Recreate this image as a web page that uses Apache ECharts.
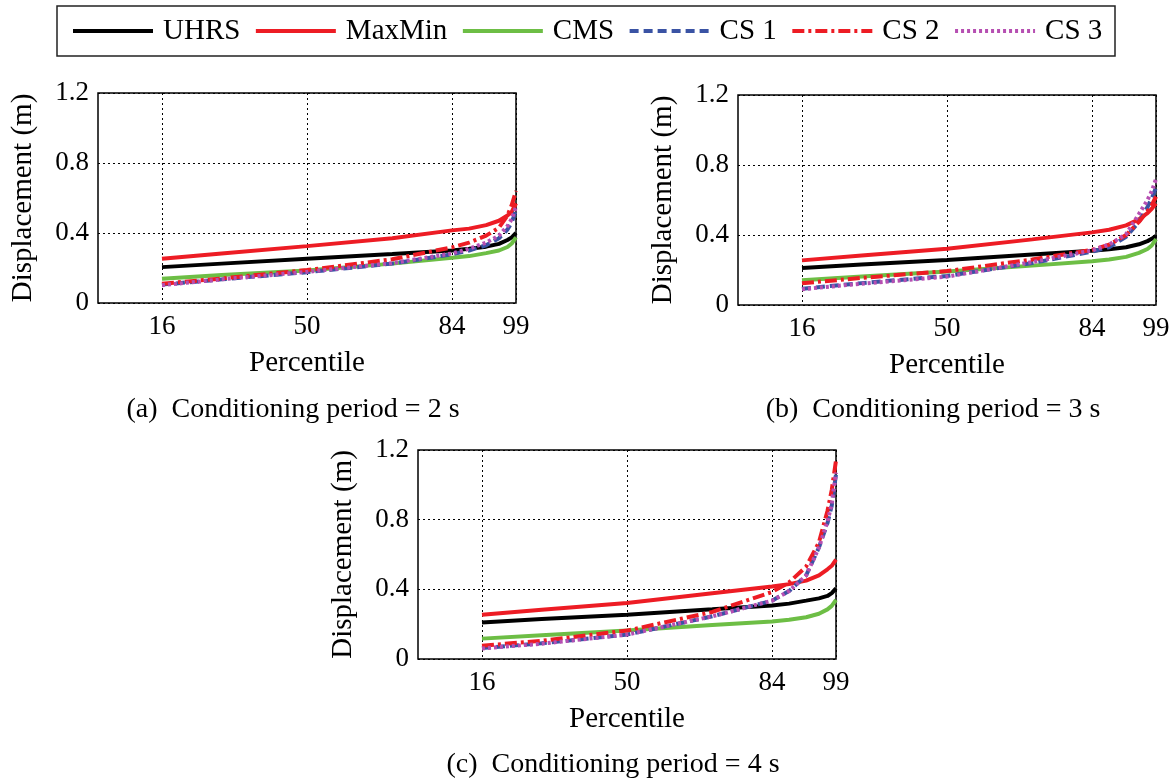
<!DOCTYPE html>
<html>
<head>
<meta charset="utf-8">
<title>Displacement percentiles</title>
<script src="https://cdn.jsdelivr.net/npm/echarts@6/dist/echarts.min.js"></script>
<style>
  html, body { margin: 0; padding: 0; background: #fff; }
  #chart { width: 1176px; height: 783px; }
</style>
</head>
<body>
<div id="chart"></div>
<script>
// percentile positions
const percentiles = [16, 30, 50, 70, 84, 88, 92, 95, 97, 98, 99];
const xTicks = [16, 50, 84, 99];
const seriesNames = ['UHRS', 'MaxMin', 'CMS', 'CS 1', 'CS 2', 'CS 3'];
const captions = ['(a)  Conditioning period = 2 s', '(b)  Conditioning period = 3 s', '(c)  Conditioning period = 4 s'];

// (a) conditioning period = 2 s
const uhrs2 = [0.205, 0.225, 0.253, 0.28, 0.30, 0.31, 0.322, 0.338, 0.36, 0.375, 0.40];
const maxmin2 = [0.253, 0.283, 0.325, 0.37, 0.415, 0.425, 0.445, 0.47, 0.50, 0.52, 0.57];
const cms2 = [0.138, 0.16, 0.186, 0.225, 0.258, 0.268, 0.285, 0.30, 0.32, 0.34, 0.375];
const cs1_2 = [0.105, 0.135, 0.176, 0.225, 0.278, 0.30, 0.33, 0.37, 0.42, 0.46, 0.53];
const cs2_2 = [0.11, 0.14, 0.188, 0.25, 0.318, 0.345, 0.385, 0.43, 0.50, 0.56, 0.64];
const cs3_2 = [0.102, 0.135, 0.178, 0.228, 0.283, 0.31, 0.345, 0.385, 0.44, 0.48, 0.55];

// (b) conditioning period = 3 s
const uhrs3 = [0.211, 0.232, 0.257, 0.288, 0.31, 0.318, 0.33, 0.347, 0.365, 0.378, 0.395];
const maxmin3 = [0.255, 0.283, 0.322, 0.375, 0.415, 0.43, 0.455, 0.49, 0.525, 0.55, 0.58];
const cms3 = [0.141, 0.163, 0.192, 0.225, 0.25, 0.26, 0.275, 0.298, 0.32, 0.34, 0.377];
const cs1_3 = [0.093, 0.125, 0.166, 0.24, 0.305, 0.33, 0.39, 0.475, 0.56, 0.61, 0.67];
const cs2_3 = [0.124, 0.155, 0.194, 0.26, 0.315, 0.345, 0.40, 0.475, 0.535, 0.57, 0.62];
const cs3_3 = [0.09, 0.122, 0.162, 0.245, 0.312, 0.345, 0.405, 0.52, 0.60, 0.65, 0.72];

// (c) conditioning period = 4 s
const uhrs4 = [0.21, 0.23, 0.254, 0.285, 0.307, 0.318, 0.335, 0.348, 0.362, 0.378, 0.405];
const maxmin4 = [0.254, 0.283, 0.321, 0.378, 0.416, 0.43, 0.45, 0.48, 0.515, 0.535, 0.57];
const cms4 = [0.117, 0.137, 0.163, 0.195, 0.215, 0.225, 0.24, 0.26, 0.285, 0.305, 0.34];
const cs1_4 = [0.063, 0.09, 0.14, 0.245, 0.335, 0.39, 0.48, 0.64, 0.78, 0.88, 1.06];
const cs2_4 = [0.076, 0.105, 0.163, 0.27, 0.385, 0.44, 0.53, 0.67, 0.85, 0.97, 1.14];
const cs3_4 = [0.06, 0.088, 0.14, 0.245, 0.335, 0.39, 0.48, 0.64, 0.79, 0.89, 1.07];

const panels = [
  [uhrs2, maxmin2, cms2, cs1_2, cs2_2, cs3_2],
  [uhrs3, maxmin3, cms3, cs1_3, cs2_3, cs3_3],
  [uhrs4, maxmin4, cms4, cs1_4, cs2_4, cs3_4],
];

const FONT = '"Liberation Serif", "Times New Roman", serif';

const lineStyles = [
  { color: '#000000', width: 4, type: 'solid' },
  { color: '#ED1C24', width: 4, type: 'solid' },
  { color: '#6DBE45', width: 4, type: 'solid' },
  { color: '#3A53A4', width: 4, type: [9, 5] },
  { color: '#ED1C24', width: 4, type: [12, 4, 3, 4] },
  { color: '#B64FB2', width: 4, type: [3, 3] },
];

const grids = [
  { left: 98, top: 93, width: 418, height: 210 },
  { left: 738, top: 95, width: 418, height: 210 },
  { left: 418, top: 450, width: 418, height: 209 },
];
const captionPos = [[293, 410], [933, 410], [613, 765]];

const chart = echarts.init(document.getElementById('chart'), null, { renderer: 'canvas' });

const xAxes = [];
const yAxes = [];
const series = [];
const graphics = [
  {
    type: 'rect',
    shape: { x: 57, y: 6, width: 1058, height: 50 },
    style: { fill: 'none', stroke: '#222', lineWidth: 1.5 },
  },
];

grids.forEach((g, i) => {
  xAxes.push({
    type: 'value',
    gridIndex: i,
    min: 1,
    max: 99,
    name: 'Percentile',
    nameLocation: 'middle',
    nameGap: 46,
    nameTextStyle: { fontFamily: FONT, fontSize: 29, color: '#000' },
    axisLine: { show: false },
    axisTick: { show: false, customValues: xTicks },
    axisLabel: { customValues: xTicks, fontFamily: FONT, fontSize: 27, color: '#000', margin: 10 },
    splitLine: { show: true, lineStyle: { color: '#000', width: 1, type: [2, 3] } },
  });
  yAxes.push({
    type: 'value',
    gridIndex: i,
    min: 0,
    max: 1.2,
    interval: 0.4,
    name: 'Displacement (m)',
    nameLocation: 'middle',
    nameGap: 60,
    nameTextStyle: { fontFamily: FONT, fontSize: 29, color: '#000' },
    axisLine: { show: false },
    axisTick: { show: false },
    axisLabel: {
      fontFamily: FONT, fontSize: 27, color: '#000', margin: 9,
      formatter: (v) => (v === 0 ? '0' : v.toFixed(1)),
    },
    splitLine: { show: true, lineStyle: { color: '#000', width: 1, type: [2, 3] } },
  });
  panels[i].forEach((vals, k) => {
    series.push({
      name: seriesNames[k],
      type: 'line',
      xAxisIndex: i,
      yAxisIndex: i,
      symbol: 'none',
      smooth: false,
      silent: true,
      lineStyle: { ...lineStyles[k], cap: 'butt' },
      itemStyle: { color: lineStyles[k].color },
      data: percentiles.map((p, j) => [p, vals[j]]),
    });
  });
  graphics.push({
    type: 'text',
    x: captionPos[i][0],
    y: captionPos[i][1],
    style: {
      text: captions[i],
      font: '28px ' + FONT,
      fill: '#000',
      align: 'center',
      verticalAlign: 'middle',
    },
  });
});

const option = {
  animation: false,
  backgroundColor: '#fff',
  grid: grids.map((g) => ({ ...g, show: true, borderColor: '#000', borderWidth: 1.5, backgroundColor: 'transparent' })),
  xAxis: xAxes,
  yAxis: yAxes,
  legend: {
    data: seriesNames,
    left: 71,
    top: 16,
    padding: 0,
    itemWidth: 80,
    itemHeight: 14,
    itemGap: 13.5,
    selectedMode: false,
    itemStyle: { opacity: 0 },
    lineStyle: { width: 4 },
    textStyle: { fontFamily: FONT, fontSize: 29, color: '#000', padding: [0, 0, 0, 5], lineHeight: 30 },
  },
  graphic: graphics,
  series: series,
};

chart.setOption(option);
</script>
</body>
</html>
